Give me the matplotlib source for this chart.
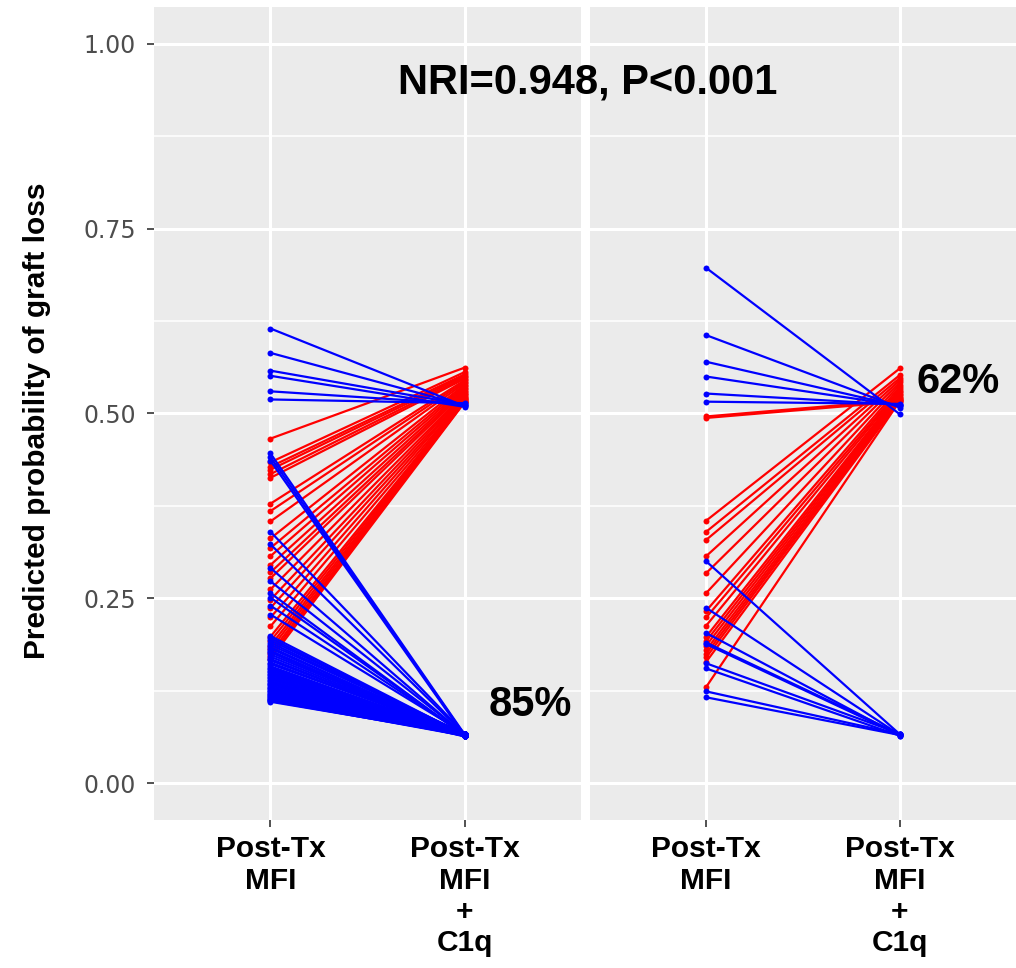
import matplotlib
matplotlib.use("Agg")
import matplotlib.pyplot as plt

plt.rcParams['font.family'] = ['Liberation Sans', 'DejaVu Sans']

# Valores: probabilidad predicha con Post-Tx MFI y con MFI + C1q
# Panel izquierdo
izq_mfi = [0.615, 0.582, 0.558, 0.551, 0.530, 0.519,
           0.466, 0.434, 0.428, 0.424, 0.418, 0.413, 0.378, 0.368, 0.354, 0.331,
           0.318, 0.307, 0.295, 0.285, 0.277, 0.262, 0.248, 0.237, 0.224, 0.212,
           0.198, 0.192, 0.186, 0.181, 0.176, 0.172, 0.168,
           0.446, 0.441, 0.436,
           0.340, 0.323, 0.291, 0.273, 0.257, 0.251, 0.240, 0.228, 0.199, 0.196,
           0.193, 0.190, 0.187, 0.184, 0.182, 0.179, 0.177, 0.174, 0.171, 0.168,
           0.166, 0.163, 0.161, 0.158, 0.156, 0.154, 0.152, 0.150, 0.148, 0.146,
           0.144, 0.142, 0.140, 0.138, 0.136, 0.134, 0.132, 0.130, 0.128, 0.127,
           0.125, 0.124, 0.122, 0.121, 0.119, 0.118, 0.117, 0.115, 0.114, 0.113,
           0.112, 0.111, 0.110]
izq_c1q = [0.510, 0.511, 0.512, 0.509, 0.513, 0.514,
           0.562, 0.556, 0.553, 0.551, 0.549, 0.547, 0.545, 0.543, 0.541, 0.539,
           0.537, 0.535, 0.533, 0.531, 0.529, 0.527, 0.526, 0.524, 0.523, 0.521,
           0.520, 0.519, 0.518, 0.517, 0.516, 0.516, 0.515,
           0.066, 0.065, 0.064,
           0.067, 0.066, 0.065, 0.066, 0.064, 0.065, 0.066, 0.067, 0.065, 0.064,
           0.066, 0.065, 0.067, 0.064, 0.066, 0.065, 0.063, 0.066, 0.065, 0.064,
           0.066, 0.065, 0.067, 0.064, 0.065, 0.066, 0.065, 0.064, 0.066, 0.065,
           0.063, 0.065, 0.066, 0.064, 0.065, 0.066, 0.065, 0.064, 0.066, 0.065,
           0.063, 0.065, 0.066, 0.064, 0.065, 0.066, 0.065, 0.064, 0.066, 0.065,
           0.064, 0.065, 0.066]

# Panel derecho
der_mfi = [0.697, 0.606, 0.570, 0.550, 0.527, 0.516,
           0.494, 0.496,
           0.355, 0.340, 0.329, 0.307, 0.284, 0.257, 0.233, 0.224, 0.213, 0.198,
           0.192, 0.186, 0.180, 0.175, 0.170, 0.164, 0.130,
           0.300, 0.237, 0.203, 0.190, 0.188, 0.162, 0.155, 0.124, 0.116]
der_c1q = [0.499, 0.508, 0.510, 0.511, 0.512, 0.513,
           0.516, 0.518,
           0.561, 0.552, 0.548, 0.545, 0.542, 0.539, 0.536, 0.533, 0.531, 0.529,
           0.527, 0.525, 0.523, 0.521, 0.520, 0.518, 0.517,
           0.066, 0.065, 0.064, 0.066, 0.065, 0.067, 0.064, 0.066, 0.065]

etiquetas_x = ['Post-Tx\nMFI', 'Post-Tx\nMFI\n+\nC1q']
ticks_y = [0.00, 0.25, 0.50, 0.75, 1.00]
pct_izq = '85%'
pct_der = '62%'
titulo = 'NRI=0.948, P<0.001'

W, H = 1016, 968
fig = plt.figure(figsize=(W / 100, H / 100), dpi=100)

def px(x0, y0, x1, y1):
    return [x0 / W, 1 - y1 / H, (x1 - x0) / W, (y1 - y0) / H]

ax1 = fig.add_axes(px(154, 7, 581, 820))
ax2 = fig.add_axes(px(590, 7, 1016, 820))

for ax, antes, despues in [(ax1, izq_mfi, izq_c1q), (ax2, der_mfi, der_c1q)]:
    ax.set_facecolor('#EBEBEB')
    for s in ax.spines.values():
        s.set_visible(False)
    ax.set_xlim(0.4, 2.6)
    ax.set_ylim(-0.05, 1.05)
    ax.set_yticks(ticks_y)
    ax.set_yticks([0.125, 0.375, 0.625, 0.875], minor=True)
    ax.set_xticks([1, 2])
    ax.grid(True, which='major', color='white', lw=2.2)
    ax.grid(True, which='minor', axis='y', color='white', lw=1.1)
    ax.set_axisbelow(True)
    ax.tick_params(which='minor', length=0)
    # rojos primero, azules encima
    pares = list(zip(antes, despues))
    for a, b in [p for p in pares if p[1] > p[0]] + [p for p in pares if p[1] <= p[0]]:
        col = '#FF0000' if b > a else '#0000FF'
        ax.plot([1, 2], [a, b], color=col, lw=1.6, marker='o', ms=4.3,
                markeredgewidth=0, solid_capstyle='round')
    ax.set_xticklabels(etiquetas_x, fontsize=21.5, fontweight='bold', color='black',
                       linespacing=1.15)
    ax.tick_params(axis='x', length=5, width=1.2, color='#333333', pad=6)

ax1.set_yticklabels(['%.2f' % v for v in ticks_y], fontsize=17, color='#4D4D4D',
                    family='DejaVu Sans')
ax1.tick_params(axis='y', length=5, width=1.2, color='#333333', pad=8)
ax2.tick_params(axis='y', length=0, labelleft=False)

fig.text(37 / W, 1 - 421 / H, 'Predicted probability of graft loss', rotation=90,
         fontsize=21.5, fontweight='bold', ha='center', va='center')
fig.text(588 / W, 1 - 82 / H, titulo, fontsize=30, fontweight='bold',
         ha='center', va='center')
ax1.text(2.34, 0.105, pct_izq, fontsize=30, fontweight='bold', ha='center', va='center')
ax2.text(2.3, 0.542, pct_der, fontsize=30, fontweight='bold', ha='center', va='center')

fig.savefig('out.png', dpi=100)
